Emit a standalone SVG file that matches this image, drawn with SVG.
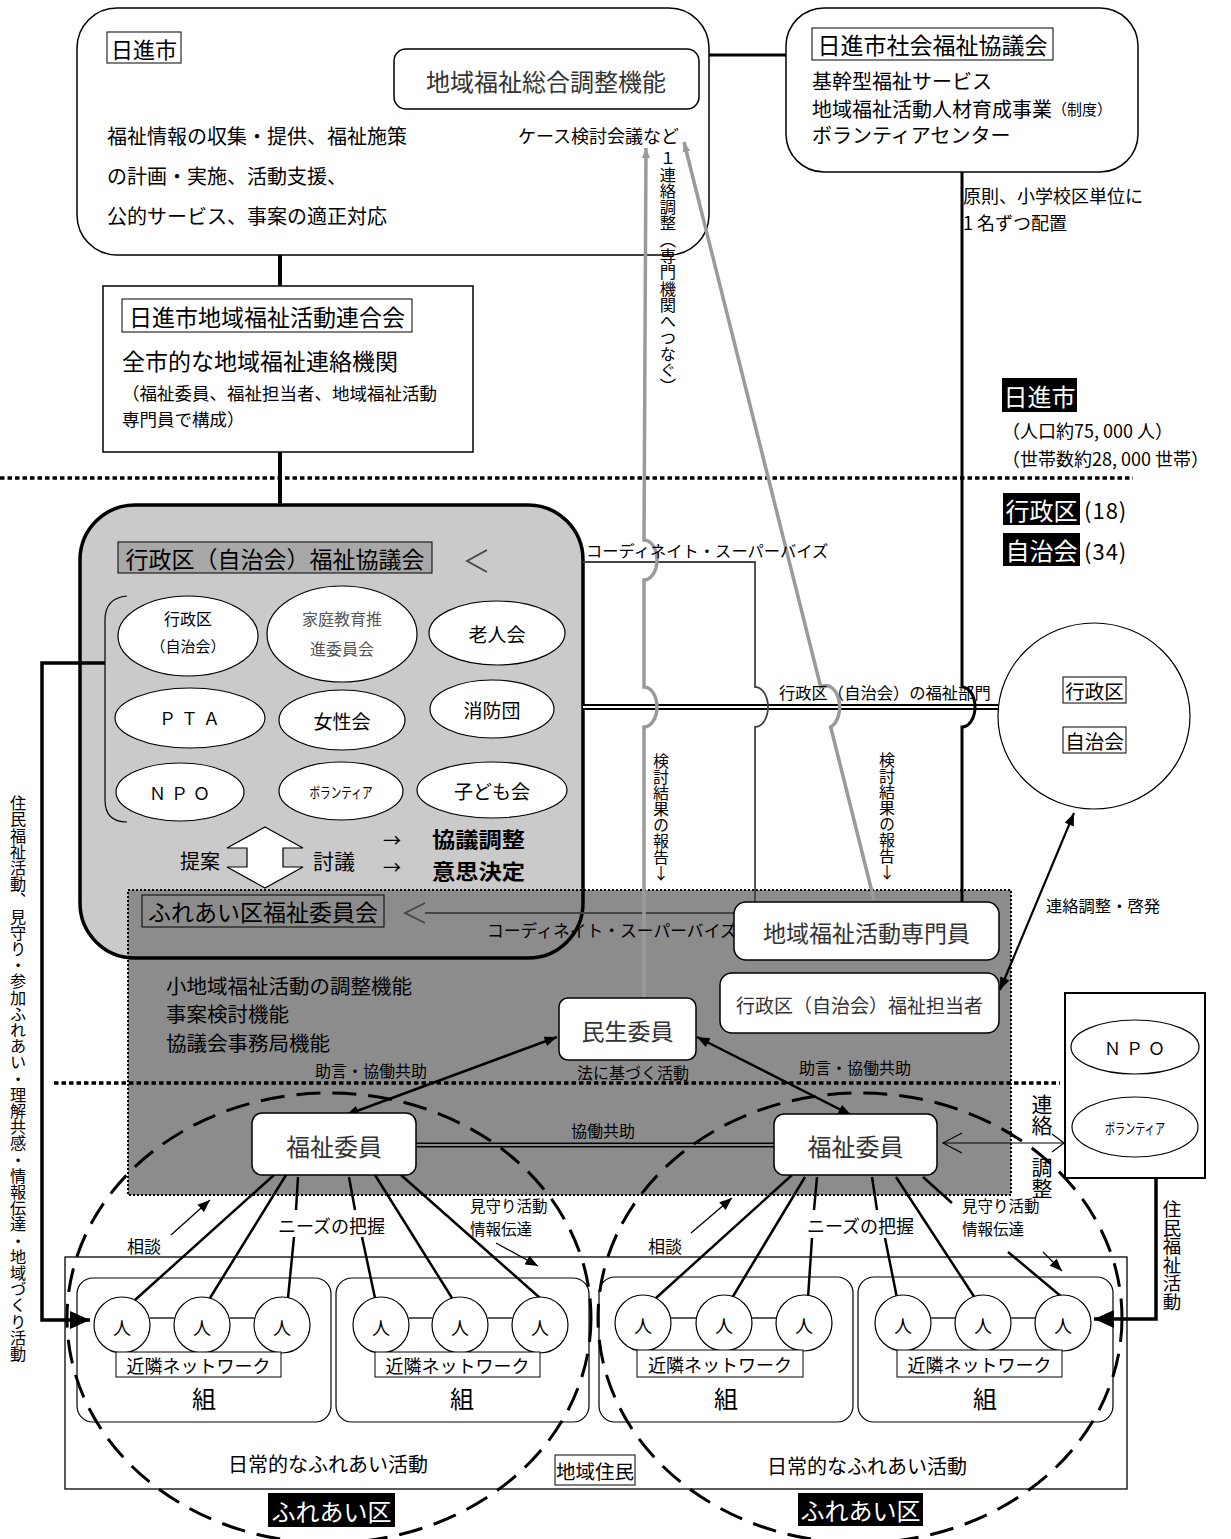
<svg xmlns="http://www.w3.org/2000/svg" width="1231" height="1539" viewBox="0 0 1231 1539">
<defs>
<style>
text{font-family:"Noto Sans CJK JP","Noto Sans CJK SC",sans-serif;fill:#000;dominant-baseline:central}
.v{writing-mode:vertical-rl;text-orientation:upright}
.m{text-anchor:middle}
.box{fill:#fff;stroke:#000;stroke-width:1.5}
.lbl{fill:#fff;stroke:#000;stroke-width:1}
.ell{fill:#fff;stroke:#000;stroke-width:1.2}
.thin{fill:none;stroke:#000;stroke-width:1.2}
.ln{fill:none;stroke:#000;stroke-width:2.5}
.gray{fill:none;stroke:#9a9a9a;stroke-width:3.5}
.coord{fill:none;stroke:#444;stroke-width:1.8}
.dotline{fill:none;stroke:#000;stroke-width:3.5;stroke-dasharray:4.5 3}
.dash{fill:none;stroke:#000;stroke-width:3;stroke-dasharray:24 12}
.lt{fill:#333}
</style>
<marker id="ah" viewBox="0 0 10 8" refX="10" refY="4" markerWidth="13" markerHeight="10" markerUnits="userSpaceOnUse" orient="auto-start-reverse"><path d="M0,0L10,4L0,8z"/></marker>
<marker id="ahb" viewBox="0 0 10 9" refX="10" refY="4.5" markerWidth="20" markerHeight="18" markerUnits="userSpaceOnUse" orient="auto-start-reverse"><path d="M0,0L10,4.5L0,9z"/></marker>
<marker id="ahg" viewBox="0 0 10 8" refX="10" refY="4" markerWidth="10" markerHeight="8" markerUnits="userSpaceOnUse" orient="auto-start-reverse"><path d="M0,0L10,4L0,8z" fill="#9a9a9a"/></marker>
</defs>
<rect x="0" y="0" width="1231" height="1539" fill="#fff"/>

<!-- background regions -->
<g id="gyoseiku-kyogikai-bg">
<rect x="80" y="505" width="503" height="453" rx="55" fill="#cacaca"/>
</g>
<g id="fureai-iinkai-area">
<rect x="128" y="890" width="883" height="305" fill="#8c8c8c" stroke="#000" stroke-width="2" stroke-dasharray="2 2"/>
</g>
<g id="gyoseiku-kyogikai-frame">
<rect x="80" y="505" width="503" height="453" rx="55" fill="none" stroke="#000" stroke-width="3.5"/>
</g>
<g id="level-lines">
<line class="dotline" x1="0" y1="478" x2="1133" y2="478"/>
<line class="dotline" x1="54" y1="1083" x2="1060" y2="1083"/>
</g>

<!-- upper nodes (drawn under connectors) -->
<g id="nisshin-city">
<rect class="box" x="77" y="8" width="632" height="247" rx="40"/>
<rect class="lbl" x="107" y="32" width="74" height="31"/>
<text x="144" y="48" font-size="22" class="m">日進市</text>
<text x="107" y="135" font-size="20">福祉情報の収集・提供、福祉施策</text>
<text x="107" y="175" font-size="20">の計画・実施、活動支援、</text>
<text x="107" y="215" font-size="20">公的サービス、事案の適正対応</text>
<text x="518" y="135" font-size="18">ケース検討会議など</text>
</g>
<g id="sogo-chosei">
<rect class="box" x="394" y="49" width="305" height="60" rx="12" stroke-width="1.2"/>
<text x="546" y="80" font-size="24" class="m lt">地域福祉総合調整機能</text>
</g>
<g id="shakyo">
<rect class="box" x="786" y="8" width="352" height="164" rx="38"/>
<rect class="lbl" x="812" y="28" width="241" height="32"/>
<text x="932.5" y="44" font-size="23" class="m">日進市社会福祉協議会</text>
<text x="812" y="80" font-size="20">基幹型福祉サービス</text>
<text x="812" y="108" font-size="20">地域福祉活動人材育成事業<tspan font-size="15">（制度）</tspan></text>
<text x="812" y="134" font-size="20">ボランティアセンター</text>
</g>
<g id="rengokai">
<rect class="box" x="103" y="286" width="370" height="166"/>
<rect class="lbl" x="122" y="299" width="290" height="33"/>
<text x="267" y="316" font-size="23" class="m">日進市地域福祉活動連合会</text>
<text x="122" y="360" font-size="23">全市的な地域福祉連絡機関</text>
<text x="122" y="392" font-size="17.5">（福祉委員、福祉担当者、地域福祉活動</text>
<text x="122" y="418" font-size="17.5">専門員で構成）</text>
</g>

<!-- connectors -->
<g id="connectors">
<line x1="709" y1="55" x2="786" y2="55" stroke="#000" stroke-width="3"/>
<line x1="280" y1="255" x2="280" y2="286" stroke="#000" stroke-width="4"/>
<line x1="280" y1="452" x2="280" y2="505" stroke="#000" stroke-width="4"/>
<line x1="583" y1="707" x2="999" y2="707" stroke="#000" stroke-width="6"/>
<line x1="583" y1="707" x2="999" y2="707" stroke="#fff" stroke-width="2"/>
<path d="M962,172V687A13,20 0 0 1 962,727V902" fill="none" stroke="#000" stroke-width="3"/>
<path class="coord" d="M583,562H755V687A13,20 0 0 1 755,727V903"/>
<path class="coord" d="M487,550L467,561L487,572"/>
<path class="coord" d="M425,913H734"/>
<path class="coord" d="M425,903L405,913L425,923"/>
<path class="gray" d="M646,148L644,540A13,20 0 0 1 644,580V687A13,20 0 0 1 644,727V998" marker-start="url(#ahg)"/>
<path class="gray" d="M684,142L820.7,687A13,20 0 0 1 830.7,727L874,900" marker-start="url(#ahg)"/>
<path d="M105,663H42V1320H90" fill="none" stroke="#000" stroke-width="3.5" marker-end="url(#ahb)"/>
<path d="M1156,1178V1319H1094" fill="none" stroke="#000" stroke-width="3.5" marker-end="url(#ahb)"/>
<line x1="1000" y1="990" x2="1074" y2="813" stroke="#000" stroke-width="2.2" marker-start="url(#ah)" marker-end="url(#ah)"/>
<line x1="346" y1="1115" x2="557" y2="1037" stroke="#000" stroke-width="2.5" marker-start="url(#ah)" marker-end="url(#ah)"/>
<line x1="851" y1="1115" x2="697" y2="1037" stroke="#000" stroke-width="2.5" marker-start="url(#ah)" marker-end="url(#ah)"/>
<line x1="416" y1="1145" x2="774" y2="1145" stroke="#000" stroke-width="5"/>
<line x1="416" y1="1145" x2="774" y2="1145" stroke="#bbb" stroke-width="1.5"/>
<path class="thin" d="M943,1143H1064"/>
<path class="thin" d="M962,1133L943,1143L962,1153"/>
<path class="thin" d="M1052,1134L1064,1143L1052,1152"/>
<line x1="171" y1="1235" x2="210" y2="1200" stroke="#000" stroke-width="1.3" marker-end="url(#ah)"/>
<line x1="691" y1="1233" x2="732" y2="1198" stroke="#000" stroke-width="1.3" marker-end="url(#ah)"/>
<line x1="496" y1="1243" x2="538" y2="1266" stroke="#000" stroke-width="1.3" marker-end="url(#ah)"/>
<line x1="1043" y1="1252" x2="1062" y2="1271" stroke="#000" stroke-width="1.3" marker-end="url(#ah)"/>
<g class="ln">
<path d="M274,1175L135,1300"/>
<path d="M286,1175L210,1298"/>
<path d="M298,1177L296,1210M294,1237L288,1298"/>
<path d="M349,1177L355,1210M362,1237L375,1298"/>
<path d="M375,1175L452,1298"/>
<path d="M401,1175L540,1298"/>
<path d="M792,1175L656,1298"/>
<path d="M805,1177L732,1298"/>
<path d="M817,1177L814,1210M812,1238L808,1298"/>
<path d="M872,1177L877,1210M885,1238L897,1298"/>
<path d="M896,1177L975,1298"/>
<path d="M923,1177L952,1203M1008,1252L1063,1298"/>
</g>
<g stroke="#000" stroke-width="1.3">
<line x1="150" y1="1318" x2="174" y2="1318"/><line x1="230" y1="1318" x2="254" y2="1318"/>
<line x1="409" y1="1318" x2="432" y2="1318"/><line x1="488" y1="1318" x2="512" y2="1318"/>
<line x1="671" y1="1318" x2="696" y2="1318"/><line x1="752" y1="1318" x2="776" y2="1318"/>
<line x1="931" y1="1318" x2="955" y2="1318"/><line x1="1011" y1="1318" x2="1035" y2="1318"/>
</g>
</g>

<!-- connector labels -->
<g id="connector-labels">
<text x="586" y="550" font-size="16.3">コーディネイト・スーパーバイズ</text>
<text x="487" y="930" font-size="16.8">コーディネイト・スーパーバイズ</text>
<text x="779" y="692" font-size="16.3">行政区（自治会）の福祉部門</text>
<text class="v" x="668" y="150" font-size="16.3">１連絡調整（専門機関へつなぐ）</text>
<text class="v" x="661" y="753" font-size="16">検討結果の報告↓</text>
<text class="v" x="887" y="752" font-size="16">検討結果の報告↓</text>
<text x="963" y="195" font-size="18">原則、小学校区単位に</text>
<text x="963" y="222" font-size="18">1 名ずつ配置</text>
<text x="1046" y="905" font-size="16.3">連絡調整・啓発</text>
<text x="315" y="1070" font-size="16">助言・協働共助</text>
<text x="577" y="1072" font-size="16">法に基づく活動</text>
<text x="799" y="1067" font-size="16">助言・協働共助</text>
<text x="571" y="1130" font-size="16">協働共助</text>
<text class="v" x="1042" y="1094" font-size="21">連絡</text>
<text class="v" x="1042" y="1157" font-size="21">調整</text>
<text class="v" x="1172" y="1200" font-size="18.5">住民福祉活動</text>
<text class="v" x="18" y="795" font-size="16.2">住民福祉活動、見守り・参加ふれあい・理解共感・情報伝達・地域づくり活動</text>
<text x="278" y="1225" font-size="18">ニーズの把握</text>
<text x="807" y="1225" font-size="18">ニーズの把握</text>
<text x="470" y="1205" font-size="15.5">見守り活動</text>
<text x="470" y="1228" font-size="15.5">情報伝達</text>
<text x="962" y="1205" font-size="15.5">見守り活動</text>
<text x="962" y="1228" font-size="15.5">情報伝達</text>
<text x="127" y="1245" font-size="17">相談</text>
<text x="648" y="1245" font-size="17">相談</text>
</g>

<!-- nodes -->
<g id="nisshin-stats">
<rect x="1002" y="378" width="75" height="34" fill="#000"/>
<text x="1039.5" y="395" font-size="24" class="m" style="fill:#fff">日進市</text>
<text x="1002" y="430" font-size="18">（人口約75, 000 人）</text>
<text x="1002" y="458" font-size="18">（世帯数約28, 000 世帯）</text>
<rect x="1003" y="493" width="77" height="32" fill="#000"/>
<text x="1041.5" y="509" font-size="24" class="m" style="fill:#fff">行政区</text>
<text x="1084" y="509" font-size="22" letter-spacing="1">(18)</text>
<rect x="1003" y="533" width="77" height="33" fill="#000"/>
<text x="1041.5" y="549.5" font-size="24" class="m" style="fill:#fff">自治会</text>
<text x="1084" y="549.5" font-size="22" letter-spacing="1">(34)</text>
</g>
<g id="gyoseiku-kyogikai">
<rect x="118" y="542" width="314" height="31" fill="#a8a8a8" stroke="#000" stroke-width="1"/>
<text x="275" y="557.5" font-size="23" class="m">行政区（自治会）福祉協議会</text>
<path class="thin" d="M127,596Q105,598 105,620V800Q105,822 127,822"/>
<ellipse class="ell" cx="188" cy="636" rx="70" ry="40"/>
<text x="188" y="618" font-size="16" class="m">行政区</text>
<text x="188" y="645" font-size="15" class="m">（自治会）</text>
<ellipse class="ell" cx="342" cy="634" rx="75" ry="48"/>
<text x="342" y="618" font-size="16" class="m" style="fill:#555">家庭教育推</text>
<text x="342" y="648" font-size="16" class="m" style="fill:#555">進委員会</text>
<ellipse class="ell" cx="497" cy="633" rx="68" ry="32"/>
<text x="497" y="633" font-size="19" class="m">老人会</text>
<ellipse class="ell" cx="190" cy="718" rx="75" ry="30"/>
<text x="192" y="717" font-size="17" class="m" letter-spacing="5">ＰＴＡ</text>
<ellipse class="ell" cx="342" cy="720" rx="63" ry="30"/>
<text x="342" y="720" font-size="19" class="m">女性会</text>
<ellipse class="ell" cx="492" cy="709" rx="62" ry="29"/>
<text x="492" y="709" font-size="19" class="m">消防団</text>
<ellipse class="ell" cx="180" cy="792" rx="64" ry="29"/>
<text x="182" y="792" font-size="17" class="m" letter-spacing="5">ＮＰＯ</text>
<ellipse class="ell" cx="341" cy="791" rx="62" ry="29"/>
<text x="341" y="791" font-size="15" class="m" textLength="63" lengthAdjust="spacingAndGlyphs">ボランティア</text>
<ellipse class="ell" cx="492" cy="790" rx="75" ry="28"/>
<text x="492" y="790" font-size="19" class="m">子ども会</text>
<polygon points="265,827 303,848 283,848 283,867 303,867 265,888 227,867 247,867 247,848 227,848" fill="#fff" stroke="#000" stroke-width="1.2"/>
<text x="180" y="860" font-size="20">提案</text>
<text x="313" y="860" font-size="21">討議</text>
<text x="383" y="839" font-size="18">→</text>
<text x="383" y="866" font-size="18">→</text>
<text x="432" y="838" font-size="21" font-weight="bold" textLength="93" lengthAdjust="spacingAndGlyphs">協議調整</text>
<text x="432" y="870" font-size="21" font-weight="bold" textLength="93" lengthAdjust="spacingAndGlyphs">意思決定</text>
</g>
<g id="fureai-iinkai">
<rect x="142" y="895" width="242" height="32" fill="#8c8c8c" stroke="#000" stroke-width="1"/>
<text x="263" y="911" font-size="23" class="m">ふれあい区福祉委員会</text>
<text x="166" y="985" font-size="20.5">小地域福祉活動の調整機能</text>
<text x="166" y="1013" font-size="20.5">事案検討機能</text>
<text x="166" y="1042" font-size="20.5">協議会事務局機能</text>
</g>
<g id="senmonin">
<rect class="box" x="734" y="902" width="265" height="58" rx="12"/>
<text x="866.5" y="932" font-size="23" class="m lt">地域福祉活動専門員</text>
</g>
<g id="tantosha">
<rect class="box" x="720" y="973" width="279" height="60" rx="12"/>
<text x="859.5" y="1004" font-size="19" class="m lt">行政区（自治会）福祉担当者</text>
</g>
<g id="minsei">
<rect class="box" x="559" y="998" width="137" height="62" rx="9"/>
<text x="627.5" y="1030" font-size="23" class="m lt">民生委員</text>
</g>
<g id="gyoseiku-circle">
<ellipse class="ell" cx="1094" cy="716" rx="96" ry="93"/>
<rect class="lbl" x="1063" y="677" width="63" height="26"/>
<text x="1094.5" y="690" font-size="19.5" class="m">行政区</text>
<rect class="lbl" x="1063" y="727" width="63" height="26"/>
<text x="1094.5" y="740" font-size="19.5" class="m">自治会</text>
</g>
<g id="npo-volunteer">
<rect x="1065" y="993" width="140" height="185" fill="#fff" stroke="#000" stroke-width="2"/>
<ellipse class="ell" cx="1135" cy="1047" rx="64" ry="27"/>
<text x="1137" y="1047" font-size="17" class="m" letter-spacing="5">ＮＰＯ</text>
<ellipse class="ell" cx="1135" cy="1127" rx="63" ry="30"/>
<text x="1135" y="1127" font-size="15" class="m" textLength="60" lengthAdjust="spacingAndGlyphs">ボランティア</text>
</g>
<g id="fukushi-iin-left">
<rect class="box" x="252" y="1113" width="164" height="62" rx="10"/>
<text x="334" y="1145" font-size="24" class="m lt">福祉委員</text>
</g>
<g id="fukushi-iin-right">
<rect class="box" x="774" y="1114" width="163" height="61" rx="10"/>
<text x="855.5" y="1145" font-size="24" class="m lt">福祉委員</text>
</g>
<g id="chiiki-jumin">
<rect x="65" y="1257" width="1062" height="232" fill="none" stroke="#000" stroke-width="1.3"/>
<text x="328" y="1463" font-size="20" class="m">日常的なふれあい活動</text>
<text x="867" y="1465" font-size="20" class="m">日常的なふれあい活動</text>
</g>
<g id="kumi-1">
<rect class="thin" x="77" y="1278" width="254" height="144" rx="16"/>
<circle class="ell" cx="122" cy="1325" r="28"/><text x="122" y="1327" font-size="18" class="m">人</text>
<circle class="ell" cx="202" cy="1325" r="28"/><text x="202" y="1327" font-size="18" class="m">人</text>
<circle class="ell" cx="282" cy="1325" r="28"/><text x="282" y="1327" font-size="18" class="m">人</text>
<rect class="lbl" x="116" y="1352" width="165" height="25"/>
<text x="198.5" y="1365" font-size="18" class="m">近隣ネットワーク</text>
<text x="204" y="1397" font-size="24" class="m">組</text>
</g>
<g id="kumi-2">
<rect class="thin" x="336" y="1278" width="253" height="144" rx="16"/>
<circle class="ell" cx="381" cy="1325" r="28"/><text x="381" y="1327" font-size="18" class="m">人</text>
<circle class="ell" cx="460" cy="1325" r="28"/><text x="460" y="1327" font-size="18" class="m">人</text>
<circle class="ell" cx="540" cy="1325" r="28"/><text x="540" y="1327" font-size="18" class="m">人</text>
<rect class="lbl" x="375" y="1352" width="165" height="25"/>
<text x="457.5" y="1365" font-size="18" class="m">近隣ネットワーク</text>
<text x="462" y="1397" font-size="24" class="m">組</text>
</g>
<g id="kumi-3">
<rect class="thin" x="599" y="1277" width="254" height="145" rx="16"/>
<circle class="ell" cx="643" cy="1323" r="28"/><text x="643" y="1325" font-size="18" class="m">人</text>
<circle class="ell" cx="724" cy="1323" r="28"/><text x="724" y="1325" font-size="18" class="m">人</text>
<circle class="ell" cx="804" cy="1323" r="28"/><text x="804" y="1325" font-size="18" class="m">人</text>
<rect class="lbl" x="637" y="1350" width="166" height="27"/>
<text x="720" y="1364" font-size="18" class="m">近隣ネットワーク</text>
<text x="726" y="1397" font-size="24" class="m">組</text>
</g>
<g id="kumi-4">
<rect class="thin" x="858" y="1277" width="255" height="145" rx="16"/>
<circle class="ell" cx="903" cy="1323" r="28"/><text x="903" y="1325" font-size="18" class="m">人</text>
<circle class="ell" cx="983" cy="1323" r="28"/><text x="983" y="1325" font-size="18" class="m">人</text>
<circle class="ell" cx="1063" cy="1323" r="28"/><text x="1063" y="1325" font-size="18" class="m">人</text>
<rect class="lbl" x="897" y="1350" width="165" height="27"/>
<text x="979.5" y="1364" font-size="18" class="m">近隣ネットワーク</text>
<text x="985" y="1397" font-size="24" class="m">組</text>
</g>
<g id="fureai-ku-left">
<ellipse class="dash" cx="329" cy="1318" rx="262" ry="225"/>
<rect x="268" y="1493" width="127" height="34" fill="#000"/>
<text x="331.5" y="1510" font-size="24" class="m" style="fill:#fff">ふれあい区</text>
</g>
<g id="fureai-ku-right">
<ellipse class="dash" cx="860" cy="1318" rx="262" ry="225"/>
<rect x="798" y="1493" width="125" height="33" fill="#000"/>
<text x="860.5" y="1509.5" font-size="24" class="m" style="fill:#fff">ふれあい区</text>
</g>
<g id="chiiki-jumin-label">
<rect class="lbl" x="555" y="1455" width="80" height="30"/>
<text x="595" y="1470" font-size="19.5" class="m">地域住民</text>
</g>
</svg>
